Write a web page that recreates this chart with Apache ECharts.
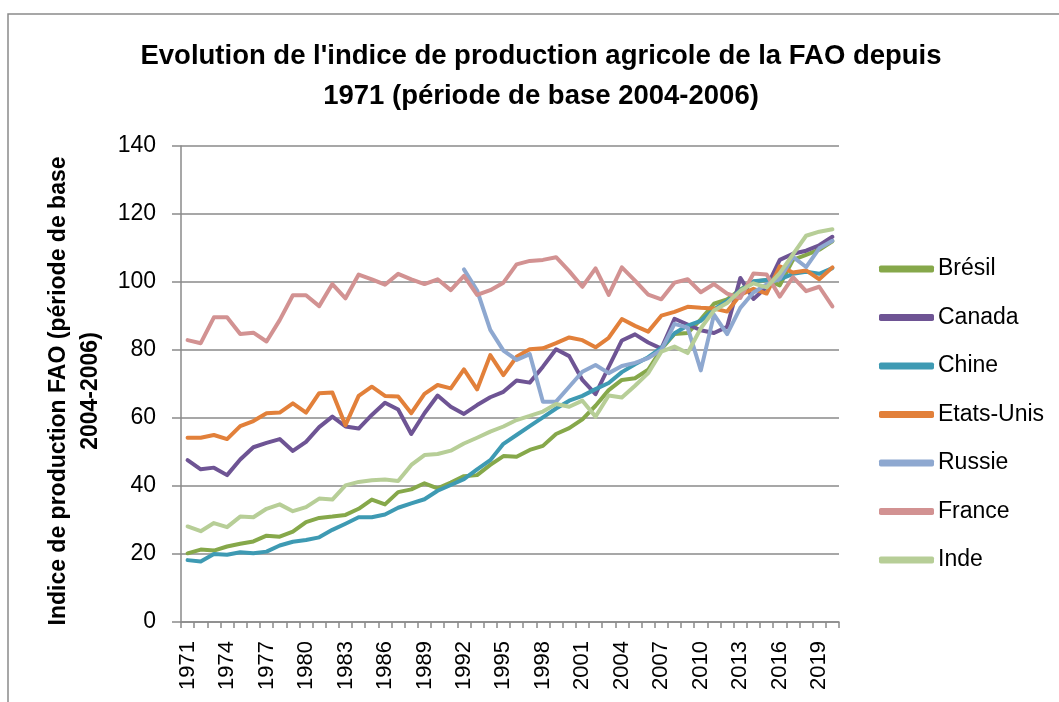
<!DOCTYPE html>
<html>
<head>
<meta charset="utf-8">
<script src="https://cdn.jsdelivr.net/npm/echarts@6/dist/echarts.min.js"></script>
<style>
html, body { margin: 0; padding: 0; background: #fff; }
#main { width: 1059px; height: 702px; }
</style>
</head>
<body>
<div id="main"></div>
<script>
// annees 1971 - 2020
var years = [];
for (var y = 1971; y <= 2020; y++) years.push(String(y));

var bresil = [20.2, 21.3, 21.0, 22.2, 23.0, 23.7, 25.4, 25.1, 26.6, 29.4,
	30.6, 31.0, 31.5, 33.3, 36.0, 34.6, 38.2, 39.0, 40.8, 39.3,
	41.0, 42.9, 43.2, 46.2, 48.8, 48.6, 50.6, 51.8, 55.3, 57.0,
	59.6, 63.6, 68.2, 71.2, 71.7, 74.2, 80.2, 84.7, 85.0, 89.0,
	93.6, 94.9, 97.8, 100.1, 100.6, 99.0, 106.5, 108.0, 109.5, 112.0];
var canada = [47.6, 44.9, 45.4, 43.2, 47.8, 51.4, 52.7, 53.8, 50.3, 53.0,
	57.3, 60.4, 57.5, 56.9, 60.9, 64.5, 62.5, 55.3, 61.4, 66.6,
	63.3, 61.2, 63.8, 66.1, 67.7, 71.0, 70.4, 75.1, 80.2, 78.2,
	71.2, 67.0, 75.0, 82.8, 84.6, 82.2, 80.4, 89.2, 87.5, 85.8,
	85.0, 86.8, 101.2, 95.0, 98.5, 106.5, 108.3, 109.2, 110.8, 113.3];
var chine = [18.2, 17.8, 20.0, 19.8, 20.5, 20.2, 20.7, 22.5, 23.6, 24.1,
	24.9, 27.1, 28.9, 30.8, 30.8, 31.6, 33.6, 34.9, 36.1, 38.6,
	40.3, 42.0, 44.9, 47.6, 52.4, 55.0, 57.6, 60.2, 62.8, 65.1,
	66.5, 68.5, 70.3, 73.5, 75.8, 77.9, 80.6, 84.9, 87.2, 88.6,
	91.9, 94.4, 97.5, 100.2, 100.6, 100.8, 102.4, 103.0, 102.4, 104.1];
var etatsUnis = [54.2, 54.2, 55.0, 53.8, 57.6, 59.1, 61.4, 61.6, 64.3, 61.6,
	67.3, 67.5, 57.9, 66.5, 69.2, 66.5, 66.3, 61.4, 67.1, 69.7,
	68.7, 74.3, 68.4, 78.5, 72.6, 78.0, 80.2, 80.5, 82.0, 83.7,
	82.9, 80.8, 83.6, 89.1, 87.1, 85.4, 90.1, 91.2, 92.7, 92.4,
	92.2, 91.3, 96.2, 98.0, 96.6, 104.6, 102.8, 103.4, 100.8, 104.3];
var russie = [null, null, null, null, null, null, null, null, null, null,
	null, null, null, null, null, null, null, null, null, null,
	null, 103.7, 97.5, 85.9, 79.8, 77.1, 78.8, 64.8, 64.8, 69.2,
	73.6, 75.6, 73.2, 75.3, 76.2, 77.6, 80.0, 87.7, 86.6, 74.0,
	90.4, 84.7, 92.4, 96.9, 99.3, 101.0, 107.4, 104.4, 109.9, 112.1];
var france = [82.9, 82.0, 89.6, 89.6, 84.7, 85.1, 82.5, 88.8, 96.1, 96.1,
	92.9, 99.4, 95.2, 102.2, 100.8, 99.2, 102.4, 100.8, 99.4, 100.8,
	97.6, 101.8, 96.2, 97.6, 99.8, 105.2, 106.2, 106.5, 107.3, 103.2,
	98.6, 104.0, 96.2, 104.3, 100.4, 96.3, 94.9, 99.8, 100.8, 97.0,
	99.4, 96.6, 95.3, 102.5, 102.2, 95.7, 101.4, 97.3, 98.6, 92.8];
var inde = [28.1, 26.7, 29.1, 27.9, 31.0, 30.8, 33.3, 34.6, 32.6, 33.8,
	36.3, 36.0, 40.2, 41.2, 41.7, 41.9, 41.5, 46.2, 49.1, 49.4,
	50.4, 52.5, 54.2, 56.0, 57.5, 59.4, 60.6, 61.9, 64.1, 63.3,
	65.1, 60.4, 66.6, 66.0, 69.5, 73.2, 79.5, 81.0, 79.1, 86.4,
	91.6, 93.8, 97.4, 99.6, 98.4, 102.6, 108.1, 113.6, 114.8, 115.5];

var names = ['Brésil', 'Canada', 'Chine', 'Etats-Unis', 'Russie', 'France', 'Inde'];
var values = [bresil, canada, chine, etatsUnis, russie, france, inde];
var colors = ['#86A84A', '#6E5494', '#3E9AB3', '#E2803A', '#8EA8D0', '#D29292', '#B7CE97'];

var font = 'Liberation Sans, Arial, sans-serif';
var grey = '#8a8a8a';

var series = [];
for (var k = 0; k < names.length; k++) {
	series.push({
		name: names[k],
		type: 'line',
		data: values[k],
		showSymbol: false,
		symbol: 'none',
		connectNulls: false,
		lineStyle: { width: 4, color: colors[k], cap: 'round', join: 'round' },
		itemStyle: { color: colors[k] }
	});
}

var myChart = echarts.init(document.getElementById('main'));
var option = {
	animation: false,
	backgroundColor: '#ffffff',
	title: {
		text: "Evolution de l'indice de production agricole de la FAO depuis\n1971 (période de base 2004-2006)",
		left: 541,
		textAlign: 'center',
		top: 36,
		padding: 0,
		textStyle: { fontFamily: font, fontWeight: 'bold', fontSize: 27.5, lineHeight: 40, color: '#000' }
	},
	graphic: [{
		type: 'rect',
		shape: { x: 8, y: 14, width: 1200, height: 900 },
		style: { fill: 'none', stroke: grey, lineWidth: 1.5 },
		silent: true
	}],
	legend: {
		orient: 'vertical',
		left: 879,
		top: 257,
		padding: 0,
		itemWidth: 55,
		itemHeight: 7,
		itemGap: 24.5,
		icon: 'roundRect',
		data: names,
		textStyle: { fontFamily: font, fontSize: 23, lineHeight: 24, color: '#000', padding: [0, 0, 0, -1] }
	},
	grid: { left: 181, right: 220, top: 146, bottom: 80 },
	xAxis: {
		type: 'category',
		data: years,
		boundaryGap: true,
		axisLine: { lineStyle: { color: grey, width: 1.5 } },
		axisTick: { show: true, interval: 0, length: 6, lineStyle: { color: grey, width: 1.5 } },
		axisLabel: { interval: 2, rotate: 90, margin: 19, fontFamily: font, fontSize: 22, color: '#000' }
	},
	yAxis: {
		type: 'value',
		min: 0,
		max: 140,
		interval: 20,
		name: 'Indice de production FAO (période de base\n2004-2006)',
		nameLocation: 'middle',
		nameRotate: 90,
		nameGap: 67,
		nameTextStyle: { fontFamily: font, fontWeight: 'bold', fontSize: 23, lineHeight: 32, color: '#000', padding: [0, 14, 0, 0] },
		axisLine: { show: true, lineStyle: { color: grey, width: 1.5 } },
		axisTick: { show: true, length: 9, lineStyle: { color: grey, width: 1.5 } },
		axisLabel: { margin: 25, fontFamily: font, fontSize: 23, color: '#000' },
		splitLine: { lineStyle: { color: grey, width: 1.5 } }
	},
	series: series
};
myChart.setOption(option);
</script>
</body>
</html>
